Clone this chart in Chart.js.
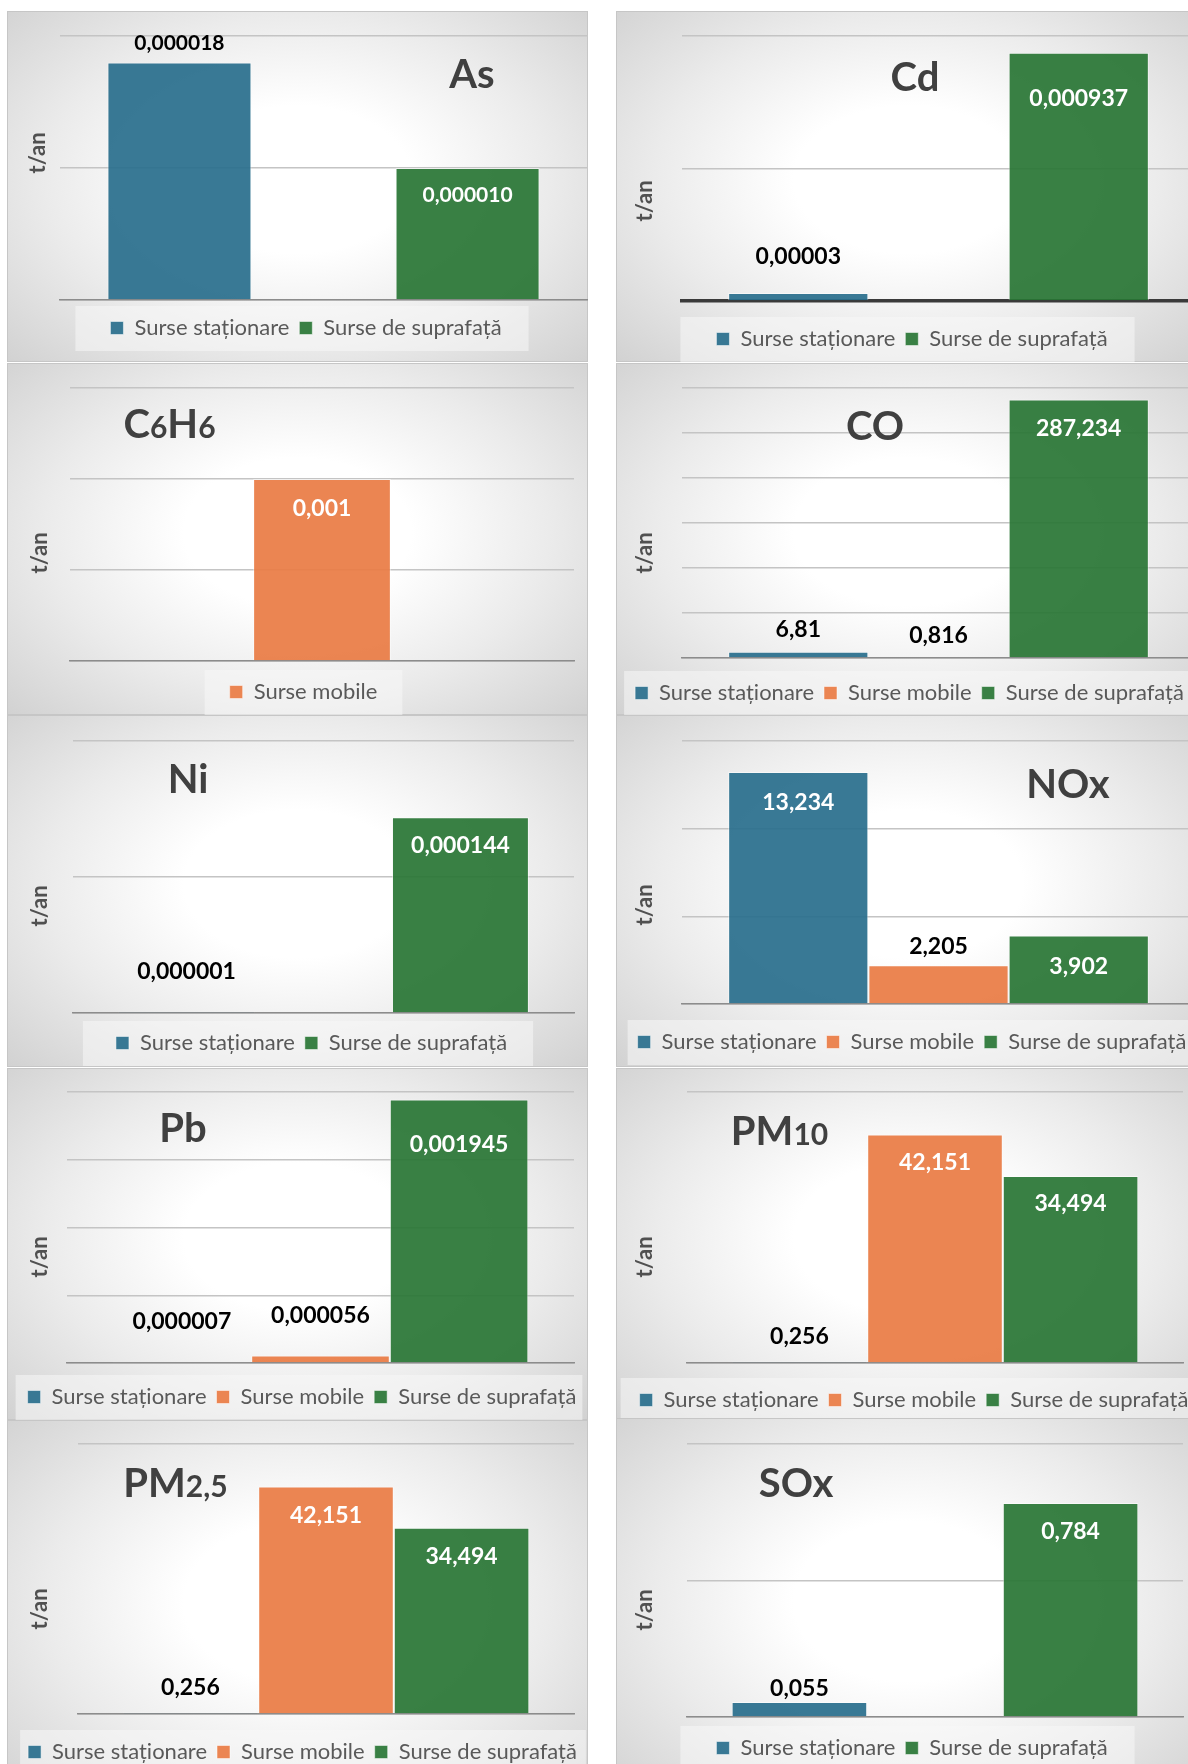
<!DOCTYPE html>
<html>
<head>
<meta charset="utf-8">
<script src="https://cdn.jsdelivr.net/npm/chart.js@4.4.0/dist/chart.umd.min.js"></script>
<style>
  html, body { margin: 0; padding: 0; background: #fff; }
  body { width: 1188px; height: 1764px; overflow: hidden; position: relative; }
  .panel {
    position: absolute;
    box-shadow: inset 0 0 0 1px #c6c6c6;
    background: radial-gradient(ellipse 70% 75% at 50% 48%, #ffffff 0%, #ffffff 28%, #ebebeb 62%, #d1d1d1 100%);
  }
  .panel canvas { position: absolute; left: 0; top: 0; }
</style>
</head>
<body>
<script>
const sources = ['Surse staționare', 'Surse mobile', 'Surse de suprafață'];
const sourceColors = ['rgba(40,110,140,0.92)', 'rgba(233,123,67,0.92)', 'rgba(40,117,52,0.92)'];

const pollutants = ['As', 'Cd', 'C6H6', 'CO', 'Ni', 'NOx', 'Pb', 'PM10', 'PM2,5', 'SOx'];
// every second piece is drawn smaller (the index digits)
const titleParts = [['As'], ['Cd'], ['C', '6', 'H', '6'], ['CO'], ['Ni'], ['NOx'], ['Pb'], ['PM', '10'], ['PM', '2,5'], ['SOx']];

// t/an, order: stationare, mobile, suprafata
const asVals   = [0.000018, null, 0.000010];
const cdVals   = [0.00003, null, 0.000937];
const c6h6Vals = [null, 0.001, null];
const coVals   = [6.81, 0.816, 287.234];
const niVals   = [0.000001, null, 0.000144];
const noxVals  = [13.234, 2.205, 3.902];
const pbVals   = [0.000007, 0.000056, 0.001945];
const pm10Vals = [0.256, 42.151, 34.494];
const pm25Vals = [0.256, 42.151, 34.494];
const soxVals  = [0.055, null, 0.784];
const values = [asVals, cdVals, c6h6Vals, coVals, niVals, noxVals, pbVals, pm10Vals, pm25Vals, soxVals];

const axisMax  = [0.00002, 0.001, 0.0015, 300, 0.0002, 15, 0.002, 50, 50, 1];
const axisStep = [0.00001, 0.0005, 0.0005, 50, 0.0001, 5, 0.0005, 50, 50, 0.5];

// page placement of each panel (box = x, y, w, h; area = left, right, top, bottom)
const frames = [
  {box: [7, 11, 581, 351], area: [60, 587, 36, 300], leg: [306, 328], legM: [35, 27], title: [472, 88], unit: [38, 153], inside: [false, false, true], lift: 19, drop: 27, digits: 6, lblSize: 21},
  {box: [616, 11, 584, 351], area: [682, 1195, 36, 301], leg: [912, 339], legM: [36, 27], title: [915, 91], unit: [645, 201], inside: [false, false, true], lift: 36, drop: 46, dark: true},
  {box: [7, 363, 581, 352], area: [70, 574, 388, 661], leg: [303.5, 692], legM: [25, 25], title: [169.5, 438], unit: [40, 553], inside: [false, true, false], lift: 22, drop: 30},
  {box: [616, 363, 584, 352], area: [682, 1195, 388, 658], leg: [909.5, 693], legM: [11, 15], title: [875, 440], unit: [645, 553], inside: [false, false, true], lift: 22, drop: 29},
  {box: [7, 715, 581, 352], area: [73, 574, 741, 1013], leg: [311.5, 1043], legM: [33, 26], title: [188, 793], unit: [40, 906], inside: [false, false, true], lift: 40, drop: 28},
  {box: [616, 715, 584, 352], area: [682, 1195, 741, 1004], leg: [912, 1042], legM: [10, 9], title: [1068, 798], unit: [645, 905], inside: [true, false, true], lift: 19, drop: 31},
  {box: [7, 1068, 581, 352], area: [67, 574, 1092, 1363], leg: [302, 1397], legM: [12, 6], title: [183, 1142], unit: [40, 1257], inside: [false, false, true], lift: 40, drop: 45},
  {box: [616, 1068, 584, 354], area: [687, 1183, 1092, 1363], leg: [914, 1400], legM: [19, 10], title: [779.5, 1145], unit: [645, 1257], inside: [false, true, true], lift: 25, drop: 28},
  {box: [7, 1420, 581, 380], area: [78, 574, 1444, 1714], leg: [302.5, 1752], legM: [8, 9], title: [175.5, 1497], unit: [40, 1609], inside: [false, true, true], lift: 25, drop: 29},
  {box: [616, 1418, 584, 382], area: [687, 1183, 1444, 1717], leg: [912, 1748], legM: [36, 27], title: [796, 1497], unit: [645, 1610], inside: [false, false, true], lift: 13, drop: 29}
];

const LEG_FONT = 22;
const LEG_PAD = 10;

function fmt(v, digits) {
  const s = digits ? v.toFixed(digits) : String(v);
  return s.replace('.', ',');
}

function decor(f, parts) {
  return {
    id: 'decor',
    beforeDraw(chart) {
      const ctx = chart.ctx;
      const hb = chart.legend.legendHitBoxes;
      if (!hb || !hb.length) return;
      const a = hb[0], b = hb[hb.length - 1];
      const x0 = a.left - f.legM[0];
      const x1 = b.left + b.width + f.legM[1];
      const yc = f.leg[1] - f.box[1];
      ctx.save();
      ctx.fillStyle = 'rgba(248,248,248,0.55)';
      ctx.fillRect(x0, yc - 22, x1 - x0, 45);
      ctx.restore();
    },
    afterDatasetsDraw(chart) {
      const ctx = chart.ctx;
      ctx.save();
      ctx.font = 'bold ' + (f.lblSize || 23) + 'px Lato';
      ctx.textAlign = 'center';
      ctx.textBaseline = 'middle';
      chart.data.datasets.forEach((ds, i) => {
        const v = ds.data[0];
        if (v == null) return;
        const bar = chart.getDatasetMeta(i).data[0];
        const inside = f.inside[i];
        ctx.fillStyle = inside ? '#ffffff' : '#000000';
        ctx.fillText(fmt(v, f.digits), bar.x, inside ? bar.y + f.drop : bar.y - f.lift);
      });
      ctx.restore();
    },
    afterDraw(chart) {
      const ctx = chart.ctx;
      ctx.save();
      ctx.fillStyle = '#404040';
      ctx.textBaseline = 'alphabetic';
      ctx.textAlign = 'left';
      const fonts = ['bold 40px Lato', 'bold 30px Lato'];
      let total = 0;
      parts.forEach((t, k) => { ctx.font = fonts[k % 2]; total += ctx.measureText(t).width; });
      let x = f.title[0] - f.box[0] - total / 2;
      const y = f.title[1] - f.box[1];
      parts.forEach((t, k) => {
        ctx.font = fonts[k % 2];
        ctx.fillText(t, x, y);
        x += ctx.measureText(t).width;
      });

      ctx.translate(f.unit[0] - f.box[0], f.unit[1] - f.box[1]);
      ctx.rotate(-Math.PI / 2);
      ctx.font = 'bold 22px Lato';
      ctx.fillStyle = '#505050';
      ctx.textAlign = 'center';
      ctx.textBaseline = 'middle';
      ctx.fillText('t/an', 0, 0);
      ctx.restore();
    }
  };
}

frames.forEach((f, i) => {
  const [bx, by, W, H] = f.box;
  const div = document.createElement('div');
  div.className = 'panel';
  div.style.left = bx + 'px';
  div.style.top = by + 'px';
  div.style.width = W + 'px';
  div.style.height = H + 'px';
  const cv = document.createElement('canvas');
  cv.width = W;
  cv.height = H;
  div.appendChild(cv);
  document.body.appendChild(div);

  const L = f.area[0] - bx, R = f.area[1] - bx, T = f.area[2] - by, B = f.area[3] - by;
  const LX = f.leg[0] - bx, LY = f.leg[1] - by;
  const legTop = LY - LEG_PAD - LEG_FONT / 2;
  const legH = LEG_FONT + LEG_PAD + 10;
  const hw = Math.min(LX, W - LX);
  const pl = LX - hw, pr = W - LX - hw;

  new Chart(cv, {
    type: 'bar',
    data: {
      labels: [pollutants[i]],
      datasets: sources.map((s, k) => ({
        label: s,
        data: [values[i][k]],
        backgroundColor: sourceColors[k],
        borderColor: 'rgba(255,255,255,0.5)',
        borderWidth: 1
      }))
    },
    options: {
      responsive: false,
      animation: false,
      events: [],
      devicePixelRatio: 1,
      layout: {padding: {left: pl, right: pr, top: T, bottom: Math.max(0, H - legTop - legH)}},
      datasets: {bar: {categoryPercentage: 0.82, barPercentage: 1}},
      scales: {
        x: {
          ticks: {display: false},
          grid: {display: false},
          border: {color: f.dark ? '#3a3a3a' : '#8c8c8c', width: f.dark ? 3.5 : 1.5},
          afterFit: s => { s.height = legTop - B; }
        },
        y: {
          min: 0,
          max: axisMax[i],
          ticks: {display: false, stepSize: axisStep[i]},
          grid: {color: '#c4c4c4', lineWidth: 1.5, drawTicks: false},
          border: {display: false},
          afterFit: s => { s.width = L - pl; }
        },
        yR: {
          type: 'linear',
          position: 'right',
          ticks: {display: false},
          grid: {display: false, drawTicks: false},
          border: {display: false},
          afterFit: s => { s.width = (W - pr) - R; }
        }
      },
      plugins: {
        tooltip: {enabled: false},
        legend: {
          position: 'bottom',
          labels: {
            font: {family: 'Lato', size: LEG_FONT},
            color: '#595959',
            boxWidth: 13,
            boxHeight: 13,
            padding: LEG_PAD,
            filter: (item, data) => data.datasets[item.datasetIndex].data[0] != null
          }
        }
      }
    },
    plugins: [decor(f, titleParts[i])]
  });
});
</script>
</body>
</html>
